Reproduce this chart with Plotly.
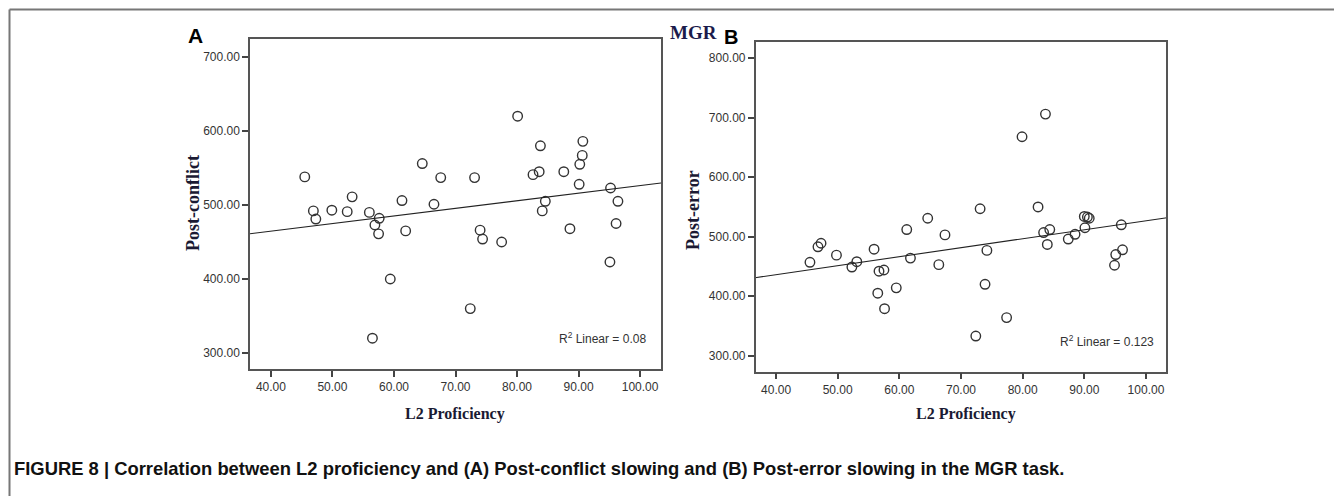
import plotly.graph_objects as go

# ---- data ----
prof_a = [45.5, 46.9, 47.3, 49.9, 52.4, 53.2, 56.0, 56.5, 56.9, 57.5, 57.6, 59.4,
          61.3, 61.9, 64.6, 66.5, 67.6, 72.4, 73.1, 74.0, 74.4, 77.5, 80.1, 82.6,
          83.6, 83.8, 84.1, 84.6, 87.6, 88.6, 90.1, 90.2, 90.6, 90.7, 95.1, 95.2,
          96.1, 96.4]
post_conflict = [538, 492, 481, 493, 491, 511, 490, 320, 473, 461, 482, 400,
                 506, 465, 556, 501, 537, 360, 537, 466, 454, 450, 620, 541,
                 545, 580, 492, 505, 545, 468, 528, 555, 567, 586, 423, 523,
                 475, 505]

prof_b = [45.5, 46.8, 47.3, 49.8, 52.3, 53.1, 55.9, 56.5, 56.7, 57.5, 57.6, 59.5,
          61.2, 61.8, 64.6, 66.4, 67.4, 72.4, 73.1, 73.9, 74.2, 77.4, 79.9, 82.5,
          83.4, 83.7, 84.0, 84.4, 87.4, 88.5, 90.0, 90.1, 90.5, 90.8, 94.9, 95.1,
          96.0, 96.2]
post_error = [457, 483, 489, 469, 449, 458, 479, 405, 442, 444, 379, 414,
              512, 464, 531, 453, 503, 333, 547, 420, 477, 364, 668, 550,
              507, 706, 487, 512, 496, 504, 534, 515, 533, 531, 452, 470,
              520, 478]

fit_x = [36.6, 103.4]
fit_a_y = [461.2, 529.7]
fit_b_y = [431.1, 531.9]

r2_a_text = "R<sup>2</sup> Linear = 0.08"
r2_b_text = "R<sup>2</sup> Linear = 0.123"

x_ticks = [40, 50, 60, 70, 80, 90, 100]
y_ticks_a = [300, 400, 500, 600, 700]
y_ticks_b = [300, 400, 500, 600, 700, 800]

caption = ("FIGURE 8 | Correlation between L2 proficiency and (A) Post-conflict slowing "
           "and (B) Post-error slowing in the MGR task.")

# ---- figure ----
# the page body has an 8px margin, so the figure is drawn 8px in from the window edge
OFF = 8
W, H = 1342 - OFF, 496 - OFF
def px(x):
    return (x - OFF) / W
def py(y):
    return 1 - (y - OFF) / H

marker = dict(symbol="circle-open", size=9.5, color="#333333", line=dict(width=1.4, color="#333333"))

fig = go.Figure()
fig.add_trace(go.Scatter(x=prof_a, y=post_conflict, mode="markers", marker=marker,
                         xaxis="x", yaxis="y", showlegend=False))
fig.add_trace(go.Scatter(x=fit_x, y=fit_a_y, mode="lines", line=dict(color="#222222", width=1.1),
                         xaxis="x", yaxis="y", showlegend=False))
fig.add_trace(go.Scatter(x=prof_b, y=post_error, mode="markers", marker=marker,
                         xaxis="x2", yaxis="y2", showlegend=False))
fig.add_trace(go.Scatter(x=fit_x, y=fit_b_y, mode="lines", line=dict(color="#222222", width=1.1),
                         xaxis="x2", yaxis="y2", showlegend=False))

tickfont = dict(family="Liberation Sans, Arial", size=12, color="#333333")
axis_common = dict(showgrid=False, zeroline=False, showline=True, mirror=True,
                   linecolor="#555555", linewidth=1.5, ticks="outside", ticklen=6,
                   tickwidth=1.5, tickcolor="#444444", tickfont=tickfont,
                   tickformat=".2f")

fig.update_layout(
    width=W, height=H,
    margin=dict(l=0, r=0, t=0, b=0),
    paper_bgcolor="white", plot_bgcolor="white",
    xaxis=dict(domain=[px(250), px(661)], range=[36.6, 103.4], tickvals=x_ticks,
               anchor="y", **axis_common),
    yaxis=dict(domain=[py(369), py(39)], range=[278.4, 724.3], tickvals=y_ticks_a,
               anchor="x", **axis_common),
    xaxis2=dict(domain=[px(755.7), px(1166.3)], range=[36.7, 103.3], tickvals=x_ticks,
                anchor="y2", **axis_common),
    yaxis2=dict(domain=[py(371.7), py(42.3)], range=[273.1, 826.7], tickvals=y_ticks_b,
                anchor="x2", **axis_common),
)

ytitle_font = dict(family="Liberation Serif, Times New Roman", size=18, color="#1a1a33")
xtitle_font = dict(family="Liberation Serif, Times New Roman", size=16, color="#1a1a33")
anns = [
    dict(text="<b>A</b>", x=px(195), y=py(36), font=dict(family="Liberation Sans, Arial", size=21, color="black")),
    dict(text="<b>B</b>", x=px(731), y=py(37), font=dict(family="Liberation Sans, Arial", size=20, color="black")),
    dict(text="<b>MGR</b>", x=px(694), y=py(32), font=dict(family="Liberation Serif, Times New Roman", size=19, color="#1b1b4b")),
    dict(text="<b>Post-conflict</b>", x=px(193), y=py(203), textangle=-90, font=ytitle_font),
    dict(text="<b>Post-error</b>", x=px(693), y=py(210), textangle=-90, font=ytitle_font),
    dict(text="<b>L2 Proficiency</b>", x=px(455), y=py(414), font=xtitle_font),
    dict(text="<b>L2 Proficiency</b>", x=px(966), y=py(414), font=xtitle_font),
    dict(text=r2_a_text, x=px(648), y=py(338), xanchor="right", font=tickfont),
    dict(text=r2_b_text, x=px(1156), y=py(341), xanchor="right", font=tickfont),
    dict(text="<b>" + caption + "</b>", x=px(12), y=py(468), xanchor="left",
         font=dict(family="Liberation Sans, Arial", size=18.4, color="#111111")),
]
for a in anns:
    a.setdefault("xanchor", "center")
    a.update(xref="paper", yref="paper", yanchor="middle", showarrow=False)
    fig.add_annotation(**a)

fig.add_shape(type="line", xref="paper", yref="paper", x0=px(9.5), x1=1.0, y0=py(9.5), y1=py(9.5),
              line=dict(color="#777777", width=2))
fig.add_shape(type="line", xref="paper", yref="paper", x0=px(9.5), x1=px(9.5), y0=py(9.5), y1=0,
              line=dict(color="#777777", width=2))

fig.write_html("out.html")
